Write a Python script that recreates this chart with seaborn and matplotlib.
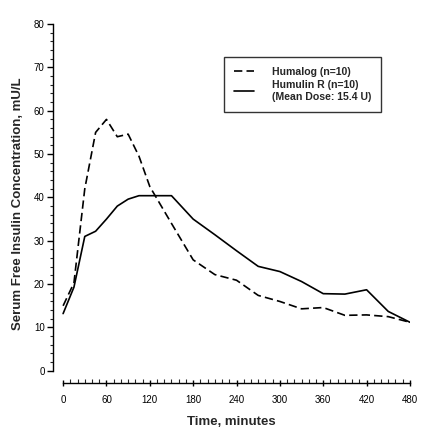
import pandas as pd
import matplotlib
matplotlib.use("Agg")
import matplotlib.pyplot as plt
from matplotlib.ticker import FixedLocator
import seaborn as sns

# ---------------------- Data ---------------------- #

time_min = [0, 15, 30, 45, 60, 75, 90, 105, 120, 150, 180, 210, 240,
            270, 300, 330, 360, 390, 420, 450, 480]
humalog = [15.0, 20.3, 42.0, 55.0, 58.0, 54.0, 54.6, 49.5, 42.5, 34.0, 25.6,
           22.2, 20.9, 17.4, 16.0, 14.3, 14.6, 12.8, 12.9, 12.5, 11.2]
humulin = [13.2, 19.3, 31.0, 32.2, 35.0, 38.0, 39.6, 40.4, 40.4, 40.4, 35.0,
           31.4, 27.7, 24.1, 22.9, 20.6, 17.8, 17.7, 18.7, 13.7, 11.2]

label_humalog = "Humalog (n=10)"
label_humulin = "Humulin R (n=10)\n(Mean Dose: 15.4 U)"
x_ticks = [0, 60, 120, 180, 240, 300, 360, 420, 480]
y_ticks = [0, 10, 20, 30, 40, 50, 60, 70, 80]

# ---------------------- Plot ---------------------- #

def main():
    sns.set_style("ticks")
    plt.rcParams["font.family"] = ["Liberation Sans", "DejaVu Sans"]

    df = pd.DataFrame({"time": time_min, "humalog": humalog, "humulin": humulin})

    fig = plt.figure(figsize=(4.28, 4.32), dpi=100)
    ax = fig.add_axes([0.1238, 0.1135, 0.834, 0.8309])

    sns.lineplot(data=df, x="time", y="humalog", ax=ax, color="black",
                 linewidth=1.2, linestyle=(0, (5, 2.5)), label=label_humalog)
    sns.lineplot(data=df, x="time", y="humulin", ax=ax, color="black",
                 linewidth=1.2, label=label_humulin)

    ax.set_xlim(-14, 480)
    ax.set_ylim(-2.8, 80)
    ax.spines["top"].set_visible(False)
    ax.spines["right"].set_visible(False)
    ax.spines["left"].set_bounds(0, 80)
    ax.spines["bottom"].set_bounds(0, 480)
    for s in ("left", "bottom"):
        ax.spines[s].set_linewidth(1.0)
        ax.spines[s].set_color("black")

    ax.set_xticks(x_ticks)
    ax.set_yticks(y_ticks)
    ax.xaxis.set_minor_locator(FixedLocator(list(range(0, 481, 10))))
    ax.yaxis.set_minor_locator(FixedLocator(list(range(0, 81, 2))))
    ax.tick_params(axis="x", which="major", direction="inout", length=5,
                   width=1, labelsize=7, pad=6, colors="black")
    ax.tick_params(axis="x", which="minor", direction="in", length=3, width=0.8)
    ax.tick_params(axis="y", which="major", direction="out", length=4,
                   width=1, labelsize=7, pad=2, colors="black")
    ax.tick_params(axis="y", which="minor", direction="out", length=2, width=0.8)

    ax.set_xlabel("Time, minutes", fontsize=9.5, fontweight="bold", labelpad=8)
    ax.set_ylabel("Serum Free Insulin Concentration, mU/L", fontsize=9.5,
                  fontweight="bold", labelpad=7)

    leg = ax.legend(loc="upper left", bbox_to_anchor=(0.479, 0.908),
                    borderaxespad=0, frameon=True, fancybox=False,
                    prop={"size": 7.6, "weight": "bold"}, handlelength=1.9,
                    handletextpad=1.7, borderpad=0.95, labelspacing=0.3)
    leg.get_frame().set_edgecolor("black")
    leg.get_frame().set_linewidth(1.0)

    fig.savefig("out.png", dpi=100, facecolor="white")


if __name__ == "__main__":
    main()
